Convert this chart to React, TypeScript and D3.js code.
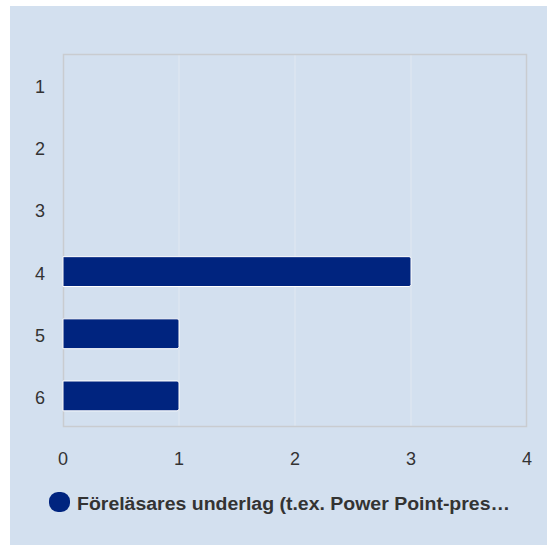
import * as d3 from 'd3';

const categories = ['1', '2', '3', '4', '5', '6'];
const values = [0, 0, 0, 3, 1, 1];
const xTicks = [0, 1, 2, 3, 4];
const seriesName = 'Föreläsares underlag (t.ex. Power Point-pres…';

const W = 547;
const H = 545;
const PLOT = { left: 63, top: 54, right: 527, bottom: 427 };

export default function App() {
  const x = d3.scaleLinear().domain([0, 4]).range([PLOT.left, PLOT.right]);
  const y = d3.scaleBand().domain(categories).range([PLOT.top, PLOT.bottom]).paddingInner(0.52).paddingOuter(0.26);
  const bh = y.bandwidth();

  return (
    <svg
      width={W}
      height={H}
      style={{ position: 'absolute', left: 0, top: 0, fontFamily: '"Liberation Sans", Arial, sans-serif' }}
    >
      <rect x={0} y={0} width={W} height={H} fill="#ffffff" />
      <rect x={10} y={6} width={W - 10} height={H - 6} fill="#d3e0ef" />

      {/* grid */}
      {xTicks.slice(1, -1).map((t) => (
        <line key={t} x1={x(t)} x2={x(t)} y1={PLOT.top} y2={PLOT.bottom} stroke="#e1e8f1" strokeWidth={1} />
      ))}
      <rect
        x={PLOT.left + 0.5}
        y={PLOT.top + 0.5}
        width={PLOT.right - PLOT.left - 1}
        height={PLOT.bottom - PLOT.top - 1}
        fill="none"
        stroke="#c9ccd0"
        strokeWidth={1.5}
      />

      {/* bars */}
      {values.map((v, i) => {
        if (v <= 0) return null;
        const y0 = y(categories[i]) ?? 0;
        const x0 = x(0);
        const x1 = x(v);
        const r = 2;
        const d = `M${x0},${y0}H${x1 - r}Q${x1},${y0} ${x1},${y0 + r}V${y0 + bh - r}Q${x1},${y0 + bh} ${x1 - r},${y0 + bh}H${x0}Z`;
        return <path key={i} d={d} fill="#00247f" stroke="#ffffff" strokeWidth={1} />;
      })}

      {/* y labels */}
      {categories.map((c) => (
        <text key={c} x={40} y={(y(c) ?? 0) + bh / 2 + 8} textAnchor="middle" fontSize={18} fill="#333333">
          {c}
        </text>
      ))}

      {/* x labels */}
      {xTicks.map((t) => (
        <text key={t} x={x(t)} y={465} textAnchor="middle" fontSize={18} fill="#333333">
          {t}
        </text>
      ))}

      {/* legend */}
      <rect x={49} y={492} width={21} height={20} rx={9} fill="#00247f" />
      <text
        x={77}
        y={510}
        fontSize={18}
        fontWeight="bold"
        fill="#333333"
        textLength={433}
        lengthAdjust="spacingAndGlyphs"
      >
        {seriesName}
      </text>
    </svg>
  );
}
